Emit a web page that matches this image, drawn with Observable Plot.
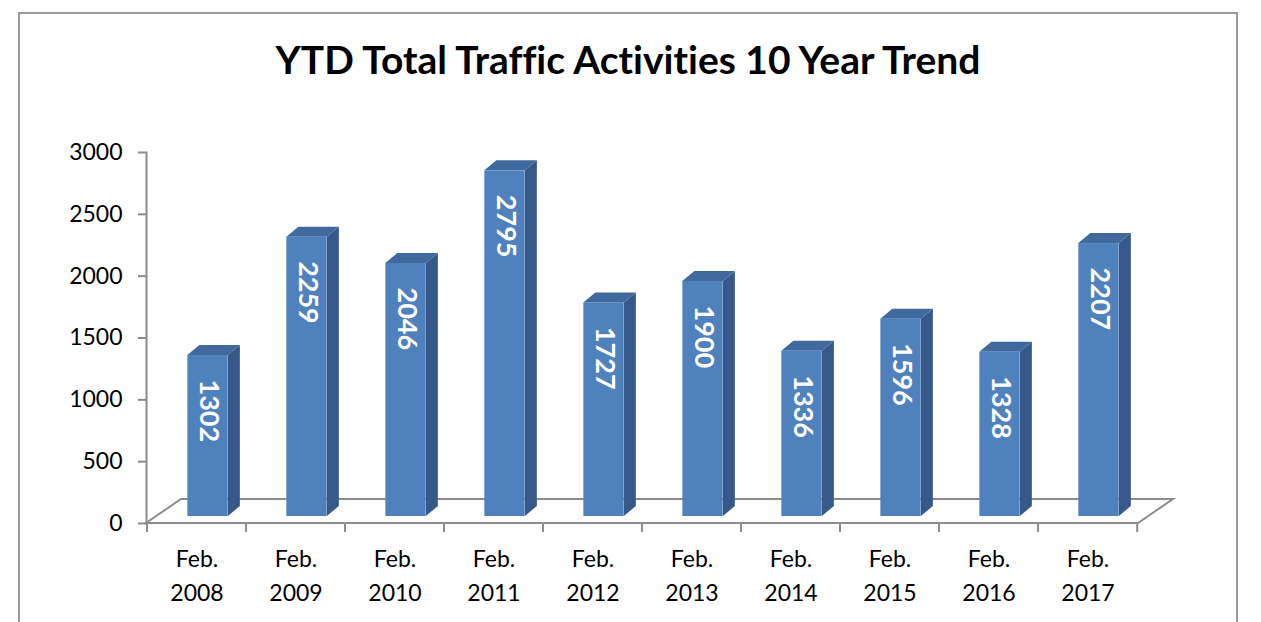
<!DOCTYPE html>
<html>
<head>
<meta charset="utf-8">
<script src="https://cdn.jsdelivr.net/npm/d3@7"></script>
<script src="https://cdn.jsdelivr.net/npm/@observablehq/plot@0.6"></script>
<style>
  html, body { margin: 0; padding: 0; background: #ffffff; }
  #wrap { position: relative; width: 1261px; height: 622px; overflow: hidden; }
  #frame { position: absolute; left: 18px; top: 12px; width: 1220px; height: 700px;
           border: 2px solid #9a9a9a; box-sizing: border-box; }
  #title { position: absolute; left: 0; top: 36px; width: 1256px; text-align: center;
           font-family: Lato, "DejaVu Sans", sans-serif; font-weight: bold; font-size: 39px;
           line-height: 1.2; color: #000; white-space: nowrap;
           font-variant-ligatures: none; font-feature-settings: "liga" 0, "clig" 0; }
  #chart { position: absolute; left: 0; top: 0; }
  #chart svg text { font-variant-ligatures: none; }
</style>
</head>
<body>
<div id="wrap">
  <div id="frame"></div>
  <div id="chart"></div>
  <div id="title"></div>
</div>
<script>
// ---- data ----
const titleText = "YTD Total Traffic Activities 10 Year Trend";
const categories = ["2008", "2009", "2010", "2011", "2012", "2013", "2014", "2015", "2016", "2017"];
const categoryPrefix = "Feb.";
const values = [1302, 2259, 2046, 2795, 1727, 1900, 1336, 1596, 1328, 2207];
const yTicks = [0, 500, 1000, 1500, 2000, 2500, 3000];

// ---- layout / style constants ----
const W = 1261, H = 622;
const ML = 146, MR = 123, MT = 152, MB = 99;
const bandW = (W - ML - MR) / categories.length;
const faceW = 40.5;                 // front face width
const inset = (bandW - faceW) / 2;
const BX = 11, BY = -7;             // bar plane offset (depth placement)
const DX = 12, DY = -10;            // bar depth projection
const FX = 35, FY = -24;            // floor depth projection
const FRONT = "#4f81bd", SIDE = "#36598a", TOP = "#40699d";
const GRID = "#8c8c8c";

const data = categories.map((c, i) => ({year: c, value: values[i]}));

function floorRender(index, scales, vals, dim) {
  const x0 = dim.marginLeft, x1 = dim.width - dim.marginRight, y0 = scales.y(0);
  const g = d3.create("svg:g").attr("fill", "none").attr("stroke", GRID).attr("stroke-width", 2);
  g.append("path").attr("d", `M${x0},${y0}L${x1},${y0}L${x1 + FX},${y0 + FY}L${x0 + FX},${y0 + FY}Z`)
    .attr("stroke-linejoin", "miter");
  const bw = (x1 - x0) / categories.length;
  const bounds = categories.map(c => scales.x(c)).concat([scales.x(categories[categories.length - 1]) + bw]);
  for (const b of bounds) g.append("line").attr("x1", b).attr("x2", b).attr("y1", y0).attr("y2", y0 + 9);
  return g.node();
}

function facesRender(index, scales, vals, dim) {
  const x0 = dim.marginLeft, x1 = dim.width - dim.marginRight;
  const bw = (x1 - x0) / categories.length;
  const g = d3.create("svg:g");
  for (const i of index) {
    const d = data[i];
    const xl = scales.x(d.year) + bw / 2 - faceW / 2 + BX;
    const xr = xl + faceW;
    const yt = scales.y(d.value) + BY;
    const yb = scales.y(0) + BY;
    g.append("path").attr("fill", SIDE)
      .attr("d", `M${xr},${yb}L${xr},${yt}L${xr + DX},${yt + DY}L${xr + DX},${yb + DY}Z`);
    g.append("path").attr("fill", TOP)
      .attr("d", `M${xl},${yt}L${xr},${yt}L${xr + DX},${yt + DY}L${xl + DX},${yt + DY}Z`);
  }
  return g.node();
}

const chart = Plot.plot({
  width: W, height: H,
  marginLeft: ML, marginRight: MR, marginTop: MT, marginBottom: MB,
  style: {fontFamily: "Lato, 'DejaVu Sans', sans-serif", fontSize: "23px", color: "#000", background: "transparent", overflow: "visible"},
  x: {domain: categories, padding: 0, axis: null},
  y: {domain: [0, 3000], axis: null},
  marks: [
    Plot.ruleY([0], {render: floorRender}),
    Plot.frame({anchor: "left", stroke: GRID, strokeWidth: 2}),
    Plot.axisY({ticks: yTicks, tickFormat: d => String(d), tickSize: 8, tickPadding: 16, stroke: GRID, strokeWidth: 2, fill: "#000", fontSize: 23, label: null}),
    Plot.axisX({tickSize: 0, tickPadding: 19, tickFormat: d => `${categoryPrefix}\n${d}`, fill: "#000", fontSize: 23, lineHeight: 1.48, label: null}),
    Plot.barY(data, {x: "year", y: "value", render: facesRender}),
    Plot.barY(data, {x: "year", y: "value", fill: FRONT, insetLeft: inset, insetRight: inset, dx: BX, dy: BY}),
    Plot.text(data, {x: "year", y: "value", text: d => String(d.value), rotate: 90, textAnchor: "start",
      dx: BX + 1, dy: BY + 24, fill: "#ffffff", fontSize: 27, fontWeight: "bold"})
  ]
});
document.getElementById("chart").appendChild(chart);
document.getElementById("title").textContent = titleText;
</script>
</body>
</html>
